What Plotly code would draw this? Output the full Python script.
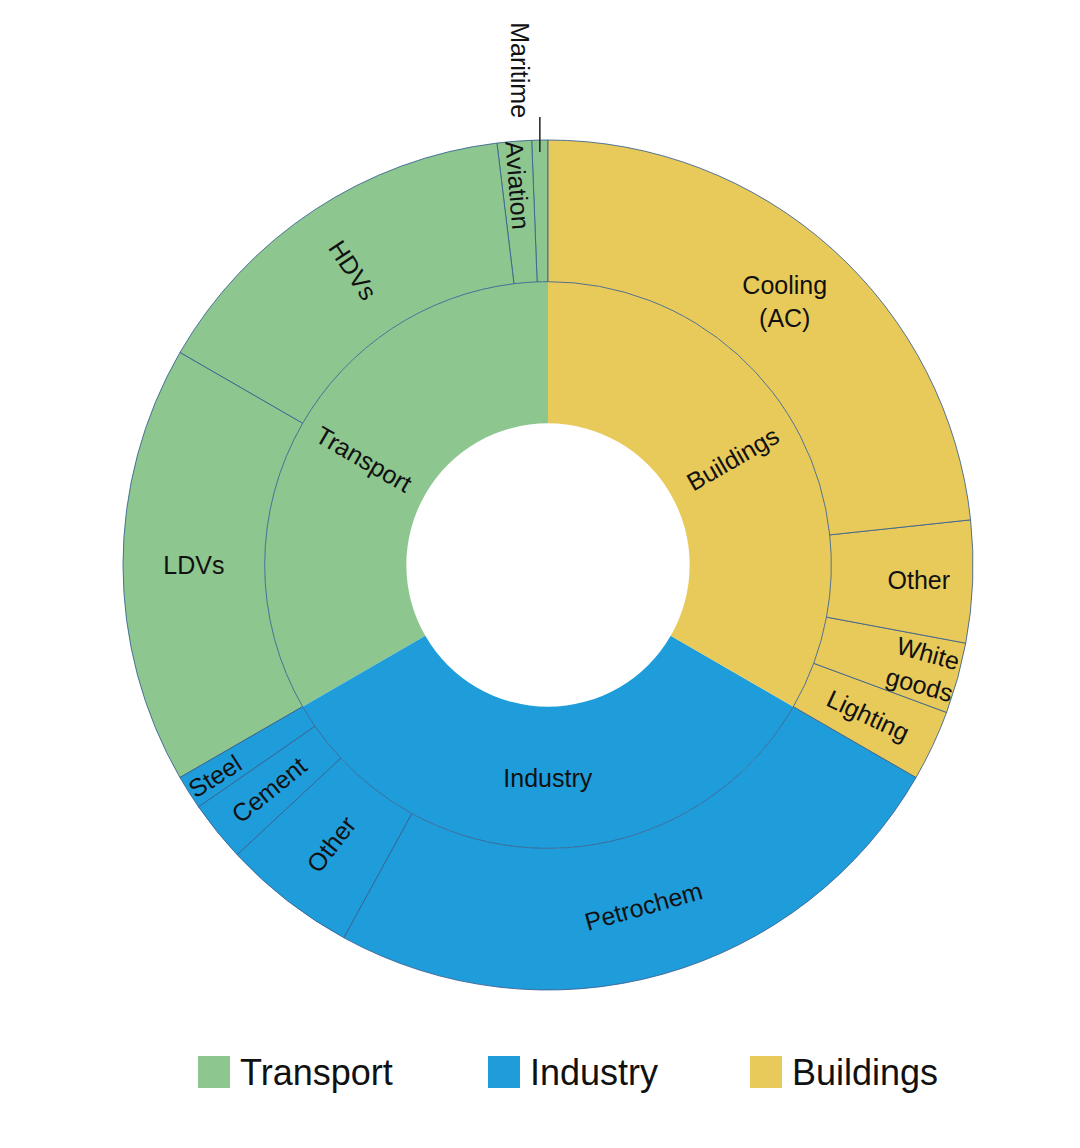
import math
import plotly.graph_objects as go

# ---- data (values in degrees of the full circle), listed clockwise from 12 o'clock ----
sectors = ["Transport", "Industry", "Buildings"]
sector_colors = ["#8DC68F", "#1F9DDA", "#E8CA5A"]

buildings_labels = ["Cooling<br>(AC)", "Other", "White<br>goods", "Lighting"]
buildings_values = [83.9, 16.7, 9.7, 9.7]

industry_labels = ["Petrochem", "Other", "Cement", "Steel"]
industry_values = [88.7, 18.3, 8.3, 4.7]

transport_labels = ["LDVs", "HDVs", "Aviation", "Maritime"]
transport_values = [60.0, 53.1, 4.7, 2.2]

# label orientation groups (to mimic the original)
horizontal_labels = {"Industry", "Buildings/Cooling<br>(AC)", "Buildings/Other", "Transport/LDVs"}
annotated_labels = {"Transport", "Buildings", "Industry/Petrochem", "Transport/Maritime"}

# ---- layout constants (screen pixels; the page body adds an 8px offset) ----
W, H = 1080, 1148
OFF = 8
CX, CY, R = 548 - OFF, 565 - OFF, 425
LINE = "rgba(55,95,145,0.85)"
FONT = "Liberation Sans, Arial, sans-serif"
TXT = "#111111"
FS = 25

groups = {
    "Buildings": (buildings_labels, buildings_values),
    "Industry": (industry_labels, industry_values),
    "Transport": (transport_labels, transport_values),
}
total = sum(buildings_values) + sum(industry_values) + sum(transport_values)

# plotly lays sunburst sectors counterclockwise, so the clockwise lists are reversed
ids, labels, parents, values, colors, lwidths = ["root"], [""], [""], [total], ["white"], [0]
for s in ["Transport", "Industry", "Buildings"]:
    col = sector_colors[sectors.index(s)]
    labs, vals = groups[s]
    ids.append(s); labels.append(s); parents.append("root"); values.append(sum(vals))
    colors.append(col); lwidths.append(0)
    for l, v in reversed(list(zip(labs, vals))):
        ids.append(s + "/" + l); labels.append(l); parents.append(s); values.append(v)
        colors.append(col); lwidths.append(1)


def texts_for(kind):
    out = []
    for i, l in zip(ids, labels):
        if i == "root" or i in annotated_labels:
            out.append("")
            continue
        k = "horizontal" if i in horizontal_labels else "radial"
        out.append(l if k == kind else "")
    return out


domain = dict(x=[(CX - R) / W, (CX + R) / W], y=[1 - (CY + R) / H, 1 - (CY - R) / H])
fig = go.Figure()
fig.add_trace(go.Sunburst(
    ids=ids, labels=labels, parents=parents, values=values,
    branchvalues="total", sort=False, rotation=90,
    text=texts_for("radial"), texttemplate="%{text}",
    marker=dict(colors=colors, line=dict(color=LINE, width=lwidths)),
    leaf=dict(opacity=1),
    insidetextorientation="radial",
    textfont=dict(family=FONT, size=FS, color=TXT),
    domain=domain, hoverinfo="label+value",
))
fig.add_trace(go.Sunburst(
    ids=ids, labels=labels, parents=parents, values=values,
    branchvalues="total", sort=False, rotation=90,
    text=texts_for("horizontal"), texttemplate="%{text}",
    marker=dict(colors=["rgba(0,0,0,0)"] * len(ids), line=dict(width=0)),
    leaf=dict(opacity=1),
    insidetextorientation="horizontal",
    textfont=dict(family=FONT, size=FS, color=TXT),
    domain=domain, hoverinfo="skip",
))


def polar(theta_deg, r):
    t = math.radians(theta_deg)
    return CX + r * math.sin(t), CY - r * math.cos(t)


def label_at(text, theta_deg, r, angle):
    x, y = polar(theta_deg, r)
    fig.add_annotation(x=x / W, y=1 - y / H, xref="paper", yref="paper", text=text,
                       textangle=angle, showarrow=False, xanchor="center", yanchor="middle",
                       font=dict(family=FONT, size=FS, color=TXT))


# rotated labels placed at each sector's mid angle (clockwise degrees from 12 o'clock)
th_b = sum(buildings_values) / 2
label_at("Buildings", th_b, R / 2, th_b - 90)
th_t = 360 - sum(transport_values) / 2
label_at("Transport", th_t, R / 2, th_t - 270)
th_p = sum(buildings_values) + industry_values[0] / 2
label_at("Petrochem", th_p, 5 * R / 6, th_p - 180)

# Maritime leader line + label
th_m = 360 - transport_values[-1] / 2
px, py = polar(th_m, R)
fig.add_shape(type="line", xref="paper", yref="paper",
              x0=px / W, x1=px / W, y0=1 - (py + 12) / H, y1=1 - (py - 23) / H,
              line=dict(color="#222222", width=1.5))
fig.add_annotation(x=(px - 20) / W, y=1 - (py - 20) / H, xref="paper", yref="paper",
                   text="Maritime", textangle=90, showarrow=False, xanchor="center", yanchor="bottom",
                   font=dict(family=FONT, size=FS, color=TXT))

# Legend drawn with shapes and text
leg_x = [198 - OFF, 488 - OFF, 750 - OFF]
leg_y = 1072 - OFF
for s, c, x in zip(sectors, sector_colors, leg_x):
    fig.add_shape(type="rect", xref="paper", yref="paper",
                  x0=x / W, x1=(x + 32) / W, y0=1 - (leg_y + 16) / H, y1=1 - (leg_y - 16) / H,
                  fillcolor=c, line=dict(width=0))
    fig.add_annotation(x=(x + 40) / W, y=1 - leg_y / H, xref="paper", yref="paper",
                       text=s, showarrow=False, xanchor="left", yanchor="middle",
                       font=dict(family=FONT, size=36, color=TXT))

fig.update_layout(width=W, height=H, margin=dict(l=0, r=0, t=0, b=0),
                  paper_bgcolor="white", plot_bgcolor="white", showlegend=False,
                  uniformtext=dict(minsize=FS, mode="show"))
fig.write_html("out.html")
